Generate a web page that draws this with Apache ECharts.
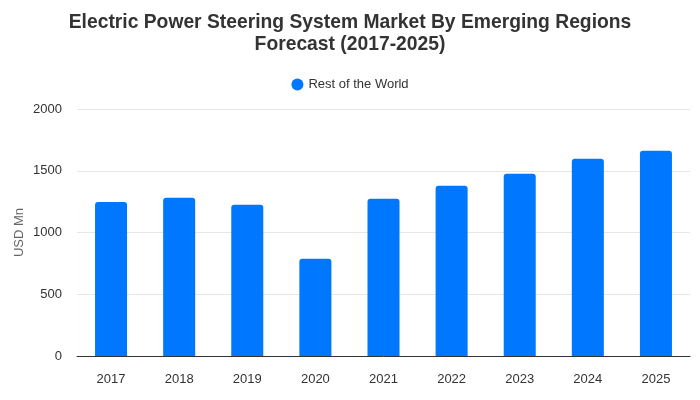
<!DOCTYPE html>
<html><head><meta charset="utf-8">
<script src="https://cdn.jsdelivr.net/npm/echarts@6/dist/echarts.min.js"></script>
<style>html,body{margin:0;padding:0;background:#fff}#c{width:700px;height:400px}</style>
</head><body><div id="c"></div>
<script>
var categories = ['2017','2018','2019','2020','2021','2022','2023','2024','2025'];
var restOfWorld = [1247, 1282, 1225, 788, 1274, 1379, 1476, 1598, 1662];
var yTicks = [0, 500, 1000, 1500, 2000];

var chart = echarts.init(document.getElementById('c'));
chart.setOption({
  animation: false,
  title: {
    text: 'Electric Power Steering System Market By Emerging Regions\nForecast (2017-2025)',
    left: 'center', top: 7,
    textStyle: {fontFamily: 'Liberation Sans', fontSize: 19.3, fontWeight: 'bold', color: '#333', lineHeight: 22}
  },
  legend: {
    top: 73, left: 'center', icon: 'circle', itemWidth: 12, itemHeight: 12, itemGap: 10,
    textStyle: {fontFamily: 'Liberation Sans', fontSize: 13, color: '#333'},
    data: ['Rest of the World']
  },
  grid: {left: 77, right: 10, top: 109, bottom: 44, outerBoundsMode: 'none'},
  xAxis: {
    type: 'category', data: categories,
    axisLine: {lineStyle: {color: '#333'}}, axisTick: {show: false},
    axisLabel: {fontFamily: 'Liberation Sans', fontSize: 13, color: '#333', margin: 17}
  },
  yAxis: {
    type: 'value', min: yTicks[0], max: yTicks[yTicks.length-1], interval: 500,
    name: 'USD Mn', nameLocation: 'middle', nameGap: 51, nameMoveOverlap: false,
    nameTextStyle: {fontFamily: 'Liberation Sans', fontSize: 13, color: '#666'},
    axisLine: {show: false}, axisTick: {show: false},
    axisLabel: {fontFamily: 'Liberation Sans', fontSize: 13, color: '#333', margin: 15,
      formatter: function (v) { return String(v); }},
    splitLine: {lineStyle: {color: '#e6e6e6'}}
  },
  series: [{
    name: 'Rest of the World', type: 'bar', data: restOfWorld, barWidth: '47%',
    itemStyle: {color: '#0077ff', borderRadius: [3,3,0,0]}
  }]
});
</script></body></html>
